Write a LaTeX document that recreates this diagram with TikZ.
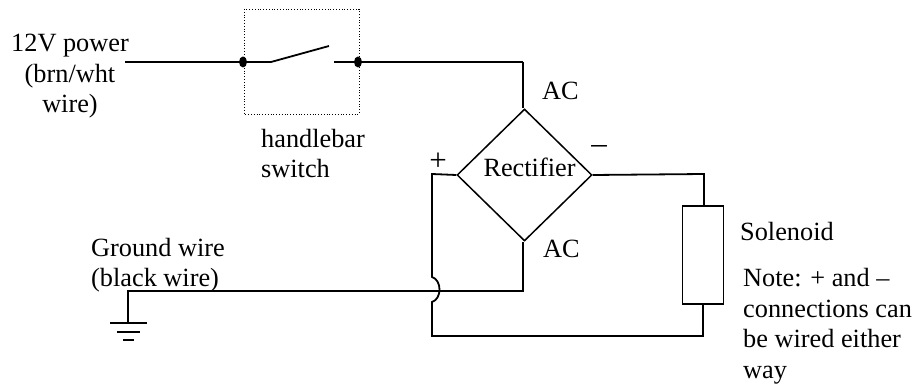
\documentclass[tikz,border=0pt]{standalone}
\usepackage{fontspec}
\setmainfont{Liberation Serif}
\usetikzlibrary{shapes.geometric}
\tikzset{
  wire/.style={line width=1.8pt},
  lbl/.style={inner sep=0pt,font=\fontsize{26.3}{30.5}\selectfont},
  blk/.style={lbl,align=left,anchor=base west},
  ctr/.style={lbl,align=center,anchor=base},
  sym/.style={inner sep=0pt,anchor=base,font=\fontsize{31}{31}\selectfont},
  dotnode/.style={ellipse,fill=black,inner sep=0pt,minimum width=8pt,minimum height=11pt}
}
\begin{document}
\begin{tikzpicture}[x=1pt,y=-1pt]
\useasboundingbox (0,0) rectangle (916,387);
\draw[line width=0.8pt,dotted] (244,9) rectangle (359,114);
\node[dotnode] (d1) at (243,62) {};
\node[dotnode] (d2) at (358,62) {};
\coordinate (pw) at (125,62);
\coordinate (sa) at (271,62);
\coordinate (sb) at (329,46);
\coordinate (sc) at (334,62);
\coordinate (tr) at (523,62);
\draw[wire] (pw) -- (d1);
\draw[wire] (d1) -- (sa) -- (sb);
\draw[wire] (sc) -- (d2);
\draw[wire] (d2) -- (tr);
\node[diamond,draw,line width=1.5pt,inner sep=0pt,minimum width=135pt,minimum height=132pt,aspect=1] (rect) at (524.5,175) {};
\node[lbl,anchor=base] (rtxt) at (529.5,177) {Rectifier};
\draw[wire] (tr) -- (rect.north -| tr);
\coordinate (pa) at (432,174);
\coordinate (b1) at (432,277);
\coordinate (b2) at (432,302);
\coordinate (bt) at (432,336);
\coordinate (sr) at (703,336);
\coordinate (mt) at (704,174);
\coordinate (gw) at (128,291);
\coordinate (ac) at (523,291);
\coordinate (g3) at (128,323);
\node[draw,line width=1.6pt,minimum width=41pt,minimum height=98pt,inner sep=0pt] (sol) at (703,255) {};
\draw[wire] (rect.west) -- (pa) -- (b1) .. controls (442,280) and (442,299) .. (b2) -- (bt) -- (sr) -- (sol.south -| sr);
\draw[wire] (rect.east) -- (mt) -- (sol.north -| mt);
\draw[wire] (rect.south -| ac) -- (ac) -- (gw) -- (g3);
\draw[wire] (110,323) -- (147,323);
\draw[wire] (117,332) -- (140,332);
\draw[wire] (123,340) -- (134,340);
\node[ctr] (pwr) at (70,113) {12V power\\(brn/wht\\wire)};
\node[blk] (hb) at (261,178) {handlebar\\switch};
\node[blk] (ac1) at (542,100) {AC};
\node[blk] (ac2) at (543,258) {AC};
\node[sym] (plus) at (438,171) {+};
\node[sym] (minus) at (599,154) {–};
\node[blk] (gnd) at (91,287) {Ground wire\\(black wire)};
\node[blk] (sl) at (740,241) {Solenoid};
\node[blk] (note) at (743,378) {Note: + and –\\connections can\\be wired either\\way};
\end{tikzpicture}
\end{document}
